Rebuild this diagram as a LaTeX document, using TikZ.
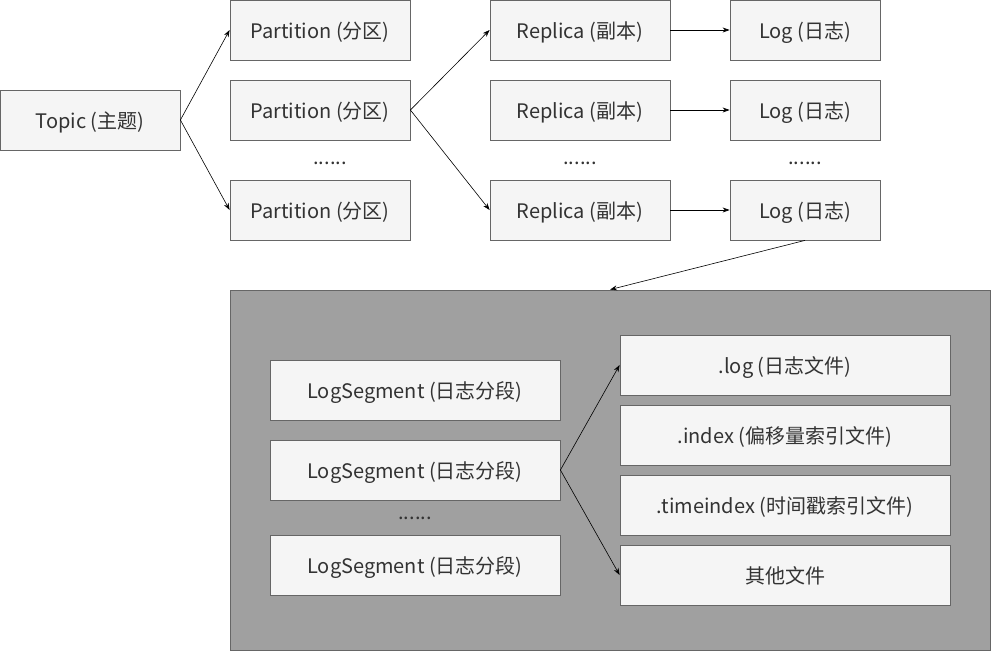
\documentclass[tikz,border=0pt]{standalone}
\usepackage{fontspec}
\setmainfont{Noto Sans CJK SC}
\usetikzlibrary{arrows.meta}
\definecolor{boxfill}{HTML}{F5F5F5}
\definecolor{boxline}{HTML}{666666}
\definecolor{bigfill}{HTML}{A0A0A0}
\definecolor{txt}{HTML}{333333}
\begin{document}
\begin{tikzpicture}[x=1pt,y=-1pt,
  box/.style={draw=boxline,fill=boxfill,line width=0.8pt,minimum width=#1,minimum height=60pt,inner sep=0pt,text height=20pt,text depth=4pt,font=\fontsize{20}{22}\selectfont,text=txt},
  box/.default=180pt,
  arr/.style={-{Stealth[length=7pt,width=5pt]},line width=0.6pt},
  dots/.style={font=\fontsize{20}{22}\selectfont,text=txt,anchor=base,inner sep=0pt}]
\useasboundingbox (0,0) rectangle (991,651);
\node[box] (topic) at (90,120) {Topic (主题)};
\node[box] (p1) at (320,30) {Partition (分区)};
\node[box] (p2) at (320,110) {Partition (分区)};
\node[box] (p3) at (320,210) {Partition (分区)};
\node[dots] (pd) at (330,164) {......};
\node[box] (r1) at (580,30) {Replica (副本)};
\node[box] (r2) at (580,110) {Replica (副本)};
\node[box] (r3) at (580,210) {Replica (副本)};
\node[dots] (rd) at (580,164) {......};
\node[box=150pt] (l1) at (805,30) {Log (日志)};
\node[box=150pt] (l2) at (805,110) {Log (日志)};
\node[box=150pt] (l3) at (805,210) {Log (日志)};
\node[dots] (ld) at (805,164) {......};
\node[draw=boxline,fill=bigfill,line width=0.8pt,minimum width=760pt,minimum height=360pt,inner sep=0pt] (big) at (610,470) {};
\node[box=290pt] (s1) at (415,390) {LogSegment (日志分段)};
\node[box=290pt] (s2) at (415,470) {LogSegment (日志分段)};
\node[box=290pt] (s3) at (415,565) {LogSegment (日志分段)};
\node[dots] (sd) at (415,519) {......};
\node[box=330pt] (f1) at (785,365) {.log (日志文件)};
\node[box=330pt] (f2) at (785,435) {.index (偏移量索引文件)};
\node[box=330pt] (f3) at (785,505) {.timeindex (时间戳索引文件)};
\node[box=330pt] (f4) at (785,575) {其他文件};
\draw[arr] (topic.east) -- (p1.west);
\draw[arr] (topic.east) -- (p3.west);
\draw[arr] (p2.east) -- (r1.west);
\draw[arr] (p2.east) -- (r3.west);
\draw[arr] (r1) -- (l1);
\draw[arr] (r2) -- (l2);
\draw[arr] (r3) -- (l3);
\draw[arr] (l3.south) -- (big.north);
\draw[arr] (s2.east) -- (f1.west);
\draw[arr] (s2.east) -- (f4.west);
\end{tikzpicture}
\end{document}
